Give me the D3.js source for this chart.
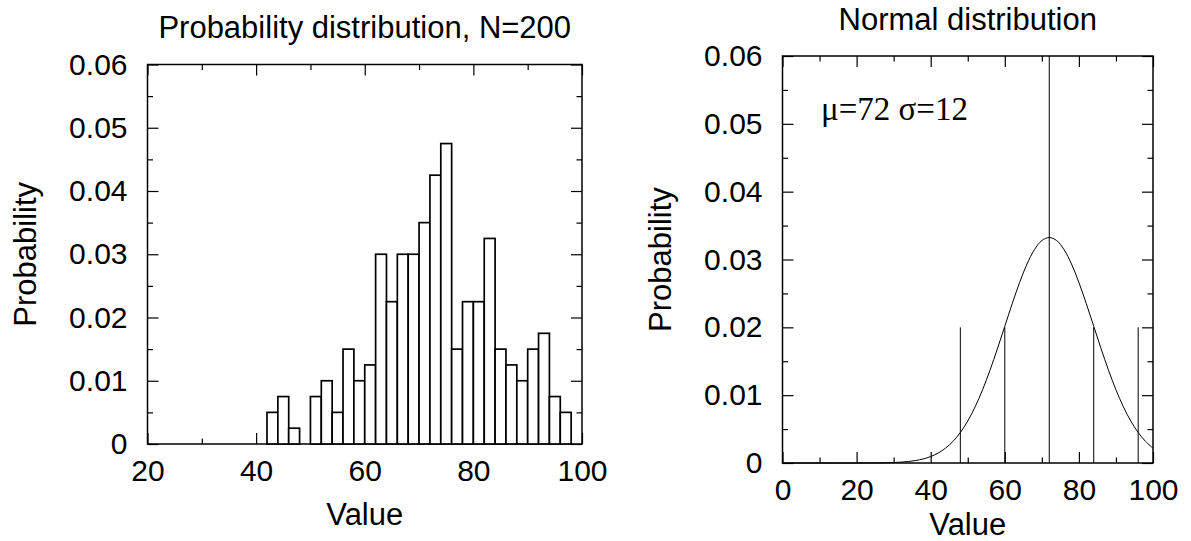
<!DOCTYPE html>
<html>
<head>
<meta charset="utf-8">
<script src="https://cdn.jsdelivr.net/npm/d3@7"></script>
<style>
  body { margin: 0; background: #fff; }
  svg { display: block; }
  text { font-family: "Liberation Sans", Arial, Helvetica, sans-serif; fill: #000; }
</style>
</head>
<body>
<svg id="chart"></svg>
<script>
// histogram: bin start (width 2) and probability
const binStart = [30, 32, 34, 36, 38, 40, 42, 44, 46, 48, 50, 52, 54, 56, 58, 60, 62,
  64, 66, 68, 70, 72, 74, 76, 78, 80, 82, 84, 86, 88, 90, 92, 94, 96]
const binProb = [0, 0, 0, 0, 0, 0, 0.005, 0.0075, 0.0025, 0, 0.0075, 0.01, 0.005, 0.015,
  0.01, 0.0125, 0.03, 0.0225, 0.03, 0.03, 0.035, 0.0425, 0.0475, 0.015, 0.0225, 0.0225,
  0.0325, 0.015, 0.0125, 0.01, 0.015, 0.0175, 0.0075, 0.005]
const binWidth = 2

// normal curve
const curveX = d3.range(0, 101, 2)
const curveY = [0, 0, 0, 0, 0, 0, 0, 0, 0, 0, 0, 0.00001, 0.00001, 0.00002, 0.00004,
  0.00007, 0.00013, 0.00022, 0.00037, 0.0006, 0.00095, 0.00146, 0.00219, 0.00318, 0.0045,
  0.00619, 0.00829, 0.01079, 0.01367, 0.01683, 0.02016, 0.02349, 0.02662, 0.02934, 0.03145,
  0.03279, 0.03324, 0.03279, 0.03145, 0.02934, 0.02662, 0.02349, 0.02016, 0.01683, 0.01367,
  0.01079, 0.00829, 0.00619, 0.0045, 0.00318, 0.00219]
const markX = [48, 60, 72, 84, 96]
const markTop = [0.02, 0.02, 0.06, 0.02, 0.02]

const yTicks = [0, 0.01, 0.02, 0.03, 0.04, 0.05, 0.06]
const yMinor = [0.005, 0.015, 0.025, 0.035, 0.045, 0.055]

const width = 1191, height = 541
const svg = d3.select("#chart").attr("width", width).attr("height", height)

function panel(box, xDomain, xTicks, xMinor, title, titleY, labelY) {
  const x = d3.scaleLinear().domain(xDomain).range([box.left, box.right])
  const y = d3.scaleLinear().domain([0, 0.06]).range([box.bottom, box.top])
  const g = svg.append("g")

  const fmt = d => d === 0 ? "0" : d3.format(".2f")(d)

  // bottom axis with labels, ticks pointing in
  g.append("g").attr("transform", `translate(0,${box.bottom})`)
    .call(d3.axisBottom(x).tickValues(xTicks).tickSize(-11).tickPadding(16).tickSizeOuter(0))
    .call(a => a.selectAll("text").attr("font-size", 30).attr("font-family", null))
  g.append("g").attr("transform", `translate(0,${box.bottom})`)
    .call(d3.axisBottom(x).tickValues(xMinor).tickSize(-5.5).tickFormat("").tickSizeOuter(0))
  g.append("g").attr("transform", `translate(0,${box.top})`)
    .call(d3.axisTop(x).tickValues(xTicks).tickSize(-11).tickFormat("").tickSizeOuter(0))
  g.append("g").attr("transform", `translate(0,${box.top})`)
    .call(d3.axisTop(x).tickValues(xMinor).tickSize(-5.5).tickFormat("").tickSizeOuter(0))

  g.append("g").attr("transform", `translate(${box.left},0)`)
    .call(d3.axisLeft(y).tickValues(yTicks).tickSize(-11).tickPadding(20).tickFormat(fmt).tickSizeOuter(0))
    .call(a => a.selectAll("text").attr("font-size", 30).attr("font-family", null))
  g.append("g").attr("transform", `translate(${box.left},0)`)
    .call(d3.axisLeft(y).tickValues(yMinor).tickSize(-5.5).tickFormat("").tickSizeOuter(0))
  g.append("g").attr("transform", `translate(${box.right},0)`)
    .call(d3.axisRight(y).tickValues(yTicks).tickSize(-11).tickFormat("").tickSizeOuter(0))
  g.append("g").attr("transform", `translate(${box.right},0)`)
    .call(d3.axisRight(y).tickValues(yMinor).tickSize(-5.5).tickFormat("").tickSizeOuter(0))

  g.selectAll(".domain").remove()
  g.selectAll(".tick line").attr("stroke", "#000").attr("stroke-width", 1.2)

  g.append("rect")
    .attr("x", box.left).attr("y", box.top)
    .attr("width", box.right - box.left).attr("height", box.bottom - box.top)
    .attr("fill", "none").attr("stroke", "#000").attr("stroke-width", 1.5)

  g.append("text").attr("x", (box.left + box.right) / 2).attr("y", titleY)
    .attr("text-anchor", "middle").attr("font-size", 31).text(title)
  g.append("text").attr("x", (box.left + box.right) / 2).attr("y", labelY)
    .attr("text-anchor", "middle").attr("font-size", 31).text("Value")
  g.append("text")
    .attr("transform", `translate(${box.left - 112},${(box.top + box.bottom) / 2}) rotate(-90)`)
    .attr("text-anchor", "middle").attr("font-size", 31).text("Probability")

  return { x, y, g }
}

// left: histogram
const left = panel({ left: 147.5, right: 582, top: 64.5, bottom: 444 },
  [20, 100], [20, 40, 60, 80, 100], [30, 50, 70, 90],
  "Probability distribution, N=200", 38, 525)

left.g.append("g")
  .selectAll("rect")
  .data(binStart)
  .join("rect")
    .attr("x", d => left.x(d))
    .attr("width", d => left.x(d + binWidth) - left.x(d))
    .attr("y", (d, i) => left.y(binProb[i]))
    .attr("height", (d, i) => left.y(0) - left.y(binProb[i]))
    .attr("fill", "#fff")
    .attr("stroke", "#000")
    .attr("stroke-width", 1.7)

// right: normal distribution
const right = panel({ left: 782.5, right: 1153, top: 56, bottom: 463 },
  [0, 100], [0, 20, 40, 60, 80, 100], [10, 30, 50, 70, 90],
  "Normal distribution", 30, 535)

right.g.append("g")
  .selectAll("line")
  .data(markX)
  .join("line")
    .attr("x1", d => right.x(d)).attr("x2", d => right.x(d))
    .attr("y1", right.y(0))
    .attr("y2", (d, i) => right.y(markTop[i]))
    .attr("stroke", "#000").attr("stroke-width", 1)

const line = d3.line()
  .x((d, i) => right.x(curveX[i]))
  .y(d => right.y(d))
  .curve(d3.curveCatmullRom)

right.g.append("path")
  .datum(curveY)
  .attr("d", line)
  .attr("fill", "none")
  .attr("stroke", "#000")
  .attr("stroke-width", 1)

right.g.append("text")
  .attr("x", right.x(10.4)).attr("y", right.y(0.0505))
  .style("font-family", "'Liberation Serif', 'Times New Roman', serif")
  .attr("font-size", 33)
  .text("μ=72 σ=12")
</script>
</body>
</html>
